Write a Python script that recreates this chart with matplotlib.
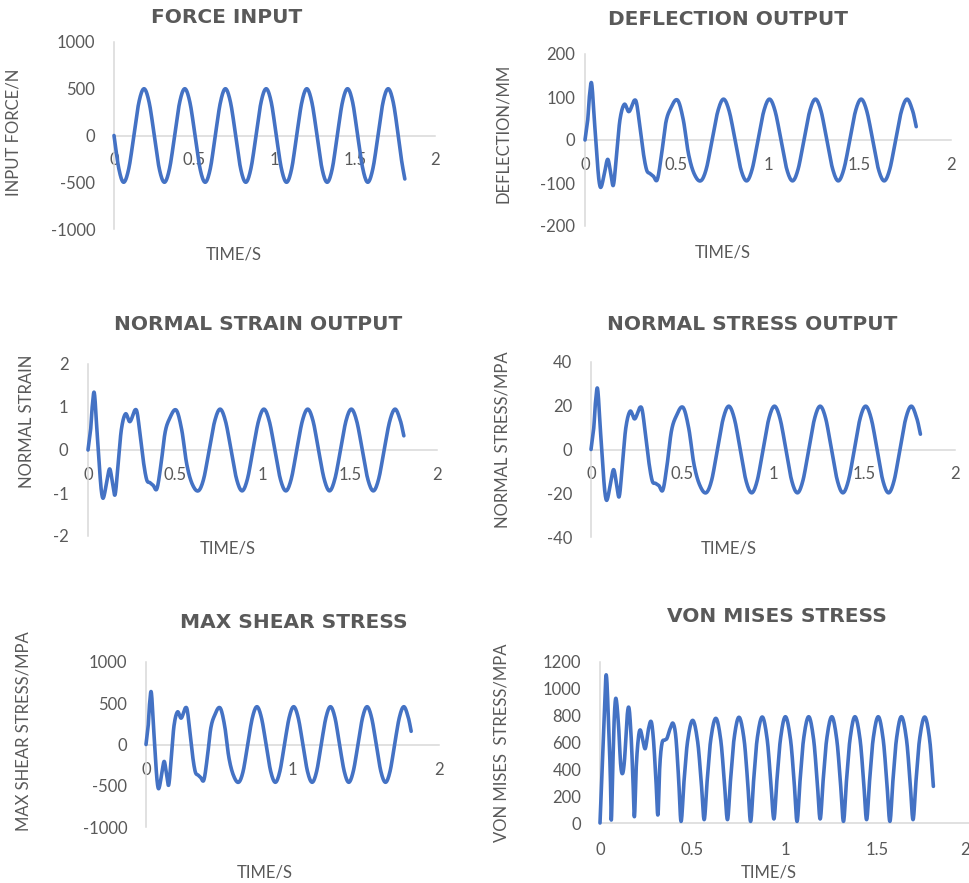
import numpy as np
import matplotlib
matplotlib.use("Agg")
import matplotlib.pyplot as plt

plt.rcParams['font.family'] = ['Lato', 'DejaVu Sans']

# ---------------- data ----------------
t_force = [0, 0.030, 0.060, 0.092, 0.124, 0.155, 0.187, 0.219,
           0.251, 0.282, 0.314, 0.346, 0.378, 0.409, 0.441, 0.473,
           0.505, 0.536, 0.568, 0.600, 0.631, 0.663, 0.694, 0.726,
           0.758, 0.789, 0.821, 0.853, 0.885, 0.916, 0.948, 0.980,
           1.011, 1.043, 1.075, 1.107, 1.138, 1.170, 1.201, 1.233,
           1.265, 1.296, 1.328, 1.360, 1.391, 1.423, 1.455, 1.487,
           1.518, 1.550, 1.581, 1.613, 1.645, 1.676, 1.708, 1.740,
           1.771, 1.792, 1.812]
force_n = [0, -354, -500, -354, 0, 354, 500, 354,
           0, -354, -500, -354, 0, 354, 500, 354,
           0, -354, -500, -354, 0, 354, 500, 354,
           0, -354, -500, -354, 0, 354, 500, 354,
           0, -354, -500, -354, 0, 354, 500, 354,
           0, -354, -500, -354, 0, 354, 500, 354,
           0, -354, -500, -354, 0, 354, 500, 354,
           0, -270, -465]

t_resp = [0, 0.015, 0.024, 0.036, 0.051, 0.064, 0.076, 0.087, 0.106, 0.124,
          0.140, 0.155, 0.173, 0.191, 0.215, 0.240, 0.277, 0.300, 0.319, 0.337,
          0.355, 0.373, 0.395, 0.419, 0.441, 0.464, 0.505, 0.537, 0.565, 0.596,
          0.632, 0.663, 0.694, 0.726, 0.757, 0.788, 0.820, 0.851,
          0.883, 0.914, 0.945, 0.977, 1.008, 1.039, 1.071, 1.102,
          1.134, 1.165, 1.196, 1.228, 1.259, 1.290, 1.321, 1.353,
          1.384, 1.415, 1.447, 1.478, 1.509, 1.540, 1.572, 1.603,
          1.635, 1.666, 1.697, 1.729, 1.760, 1.791, 1.810]

deflection_mm = [0, 47, 101, 132, 47, -31, -93, -110, -78, -45,
                 -75, -105, -31, 47, 83, 66, 92, 31, -31, -70,
                 -78, -84, -92, -31, 39, 70, 93, 47, -31, -78,
                 -95, -67, 0, 67, 95, 67, 0, -67,
                 -95, -67, 0, 67, 95, 67, 0, -67,
                 -95, -67, 0, 67, 95, 67, 0, -67,
                 -95, -67, 0, 67, 95, 67, 0, -67,
                 -95, -67, 0, 67, 95, 67, 31]

normal_strain = [0, 0.47, 1.0, 1.33, 0.47, -0.31, -0.93, -1.12, -0.78, -0.44,
                 -0.75, -1.04, -0.31, 0.47, 0.84, 0.66, 0.93, 0.31, -0.31, -0.70,
                 -0.76, -0.82, -0.90, -0.31, 0.39, 0.70, 0.93, 0.47, -0.31, -0.78,
                 -0.95, -0.67, 0, 0.67, 0.95, 0.67, 0, -0.67,
                 -0.95, -0.67, 0, 0.67, 0.95, 0.67, 0, -0.67,
                 -0.95, -0.67, 0, 0.67, 0.95, 0.67, 0, -0.67,
                 -0.95, -0.67, 0, 0.67, 0.95, 0.67, 0, -0.67,
                 -0.95, -0.67, 0, 0.67, 0.95, 0.67, 0.33]

normal_stress = [0, 9.7, 21, 27.8, 9.7, -6.4, -19.3, -23.2, -16.2, -9.2,
                 -15.5, -21.5, -6.4, 9.7, 17.5, 14.0, 19.2, 6.4, -6.4, -14.5,
                 -15.5, -16.5, -18.5, -6.4, 8.0, 14.5, 19.3, 9.7, -6.4, -16.0,
                 -19.8, -14.0, 0, 14.0, 19.8, 14.0, 0, -14.0,
                 -19.8, -14.0, 0, 14.0, 19.8, 14.0, 0, -14.0,
                 -19.8, -14.0, 0, 14.0, 19.8, 14.0, 0, -14.0,
                 -19.8, -14.0, 0, 14.0, 19.8, 14.0, 0, -14.0,
                 -19.8, -14.0, 0, 14.0, 19.8, 14.0, 7.0]

max_shear = [0, 225, 485, 634, 225, -150, -445, -535, -375, -205,
             -360, -490, -150, 225, 395, 320, 444, 150, -150, -335,
             -370, -400, -430, -150, 185, 335, 445, 225, -150, -370,
             -458, -324, 0, 324, 458, 324, 0, -324,
             -458, -324, 0, 324, 458, 324, 0, -324,
             -458, -324, 0, 324, 458, 324, 0, -324,
             -458, -324, 0, 324, 458, 324, 0, -324,
             -458, -324, 0, 324, 458, 324, 160]

t_vm = [0, 0.012, 0.024, 0.034, 0.047, 0.056, 0.061, 0.068, 0.077, 0.086,
        0.100, 0.112, 0.1225, 0.133, 0.147, 0.157, 0.168, 0.178, 0.186, 0.196,
        0.208, 0.218, 0.232, 0.245, 0.262, 0.277, 0.289, 0.302, 0.313, 0.323,
        0.335, 0.350, 0.362, 0.378, 0.395, 0.410, 0.425,
        0.438, 0.454, 0.473, 0.501, 0.528, 0.547,
        0.563, 0.579, 0.598, 0.626, 0.653, 0.672,
        0.689, 0.705, 0.724, 0.751, 0.779, 0.798,
        0.814, 0.830, 0.849, 0.877, 0.904, 0.923,
        0.940, 0.956, 0.975, 1.002, 1.030, 1.049,
        1.065, 1.081, 1.100, 1.128, 1.155, 1.174,
        1.190, 1.206, 1.225, 1.253, 1.280, 1.299,
        1.316, 1.332, 1.351, 1.378, 1.406, 1.425,
        1.441, 1.457, 1.476, 1.504, 1.531, 1.550,
        1.567, 1.583, 1.602, 1.629, 1.657, 1.676,
        1.692, 1.708, 1.727, 1.755, 1.782, 1.802]
von_mises = [0, 420, 850, 1103, 718, 345, 22, 360, 780, 929,
             730, 430, 370, 480, 800, 855, 650, 330, 47, 420,
             640, 693, 610, 556, 700, 755, 620, 330, 60, 420,
             594, 618, 631, 700, 743, 640, 330,
             12, 310, 605, 765, 605, 310,
             25, 310, 615, 780, 615, 310,
             25, 310, 620, 788, 620, 310,
             12, 310, 620, 790, 620, 310,
             30, 315, 620, 792, 620, 315,
             12, 310, 620, 792, 620, 310,
             30, 315, 620, 792, 620, 315,
             12, 310, 620, 792, 620, 310,
             25, 312, 620, 792, 620, 312,
             12, 310, 620, 792, 620, 310,
             25, 312, 620, 790, 620, 273]

x_ticks_half = [0, 0.5, 1, 1.5, 2]
x_labels_half = ["0", "0.5", "1", "1.5", "2"]
x_ticks_one = [0, 1, 2]
x_labels_one = ["0", "1", "2"]

# ---------------- drawing ----------------
W, H = 969, 883
fig = plt.figure(figsize=(W / 100, H / 100), dpi=100)

LINE = '#4472C4'
TXT = '#595959'
AXC = '#D9D9D9'


def smooth(t, v, n=14):
    """Smoothed line through the points (cardinal Hermite, like a spreadsheet 'smoothed line')."""
    t = np.asarray(t, float)
    v = np.asarray(v, float)
    m = np.empty_like(v)
    m[1:-1] = (v[2:] - v[:-2]) / (t[2:] - t[:-2])
    m[0] = (v[1] - v[0]) / (t[1] - t[0])
    m[-1] = (v[-1] - v[-2]) / (t[-1] - t[-2])
    s = np.linspace(0, 1, n, endpoint=False)
    h00 = 2 * s**3 - 3 * s**2 + 1
    h10 = s**3 - 2 * s**2 + s
    h01 = -2 * s**3 + 3 * s**2
    h11 = s**3 - s**2
    xs, ys = [], []
    for i in range(len(t) - 1):
        h = t[i + 1] - t[i]
        xs.append(t[i] + s * h)
        ys.append(h00 * v[i] + h10 * h * m[i] + h01 * v[i + 1] + h11 * h * m[i + 1])
    xs.append([t[-1]])
    ys.append([v[-1]])
    return np.concatenate(xs), np.concatenate(ys)


def panel(box, ylim, yticks, xticks, xlabels, t, v, title, tpos, ylabel, ylpos,
          xlpos, ypad, xpad, zero_axis=True):
    x0, x2, ytop, ybot = box
    ax = fig.add_axes([x0 / W, 1 - ybot / H, (x2 - x0) / W, (ybot - ytop) / H])
    ax.set_xlim(0, 2)
    ax.set_ylim(*ylim)
    xs, ys = smooth(t, v)
    ax.plot(xs, ys, color=LINE, lw=2.6, solid_capstyle='round',
            solid_joinstyle='round', clip_on=False, zorder=3)
    for s in ('top', 'right'):
        ax.spines[s].set_visible(False)
    for s in ('left', 'bottom'):
        ax.spines[s].set_color(AXC)
        ax.spines[s].set_linewidth(1.1)
    if zero_axis:
        ax.spines['bottom'].set_position(('data', 0))
    ax.set_xticks(xticks)
    ax.set_xticklabels(xlabels)
    ax.set_yticks(yticks)
    ax.set_yticklabels([str(y) for y in yticks])
    ax.tick_params(length=0, labelsize=12, labelcolor=TXT)
    ax.tick_params(axis='x', pad=xpad)
    ax.tick_params(axis='y', pad=ypad)
    ax.patch.set_alpha(0)
    fig.text(tpos[0] / W, 1 - tpos[1] / H, title, ha='center', va='center',
             color=TXT, fontsize=14.5, fontweight='bold', family=['DejaVu Sans'])
    fig.text(ylpos[0] / W, 1 - ylpos[1] / H, ylabel, ha='center', va='center',
             rotation=90, color=TXT, fontsize=12)
    fig.text(xlpos[0] / W, 1 - xlpos[1] / H, "TIME/S", ha='center', va='center',
             color=TXT, fontsize=12)
    return ax


panel((114, 435, 42, 229), (-1000, 1000), [-1000, -500, 0, 500, 1000],
      x_ticks_half, x_labels_half, t_force, force_n,
      "FORCE INPUT", (227, 17.5), "INPUT FORCE/N", (14, 132.5), (234, 254.5), 13.5, 12)

panel((585, 951, 54, 226), (-200, 200), [-200, -100, 0, 100, 200],
      x_ticks_half, x_labels_half, t_resp, deflection_mm,
      "DEFLECTION OUTPUT", (727.5, 19.5), "DEFLECTION/MM", (503, 133), (722.5, 252.5), 7, 12)

panel((88, 437, 364, 536), (-2, 2), [-2, -1, 0, 1, 2],
      x_ticks_half, x_labels_half, t_resp, normal_strain,
      "NORMAL STRAIN OUTPUT", (258, 324), "NORMAL STRAIN", (27, 421.5), (228, 548.5), 14, 12.5)

panel((591, 955, 362, 537), (-40, 40), [-40, -20, 0, 20, 40],
      x_ticks_half, x_labels_half, t_resp, normal_stress,
      "NORMAL STRESS OUTPUT", (752, 324), "NORMAL STRESS/MPA", (503, 440), (728.5, 549), 13.5, 12)

panel((146, 439, 662, 827), (-1000, 1000), [-1000, -500, 0, 500, 1000],
      x_ticks_one, x_labels_one, t_resp, max_shear,
      "MAX SHEAR STRESS", (294, 622.5), "MAX SHEAR STRESS/MPA", (24, 731.5), (265, 872.5), 13.5, 12.5)

ax6 = panel((600, 970, 662, 823), (0, 1200), [0, 200, 400, 600, 800, 1000, 1200],
            x_ticks_half, x_labels_half, t_vm, von_mises,
            "VON MISES STRESS", (777, 617), "VON MISES  STRESS/MPA", (501.5, 742.5), (769, 872), 13.5, 13.5,
            zero_axis=False)
# the last tick label sits on the right edge of the figure: keep it inside
ax6.get_xticklabels()[-1].set_horizontalalignment('right')

fig.savefig("out.png", dpi=100)
